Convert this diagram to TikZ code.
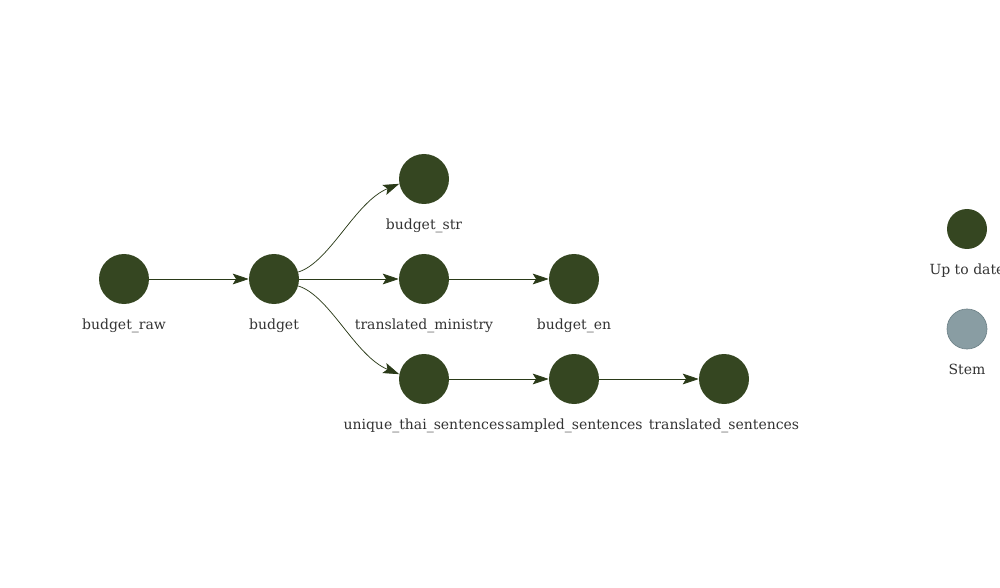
\documentclass[tikz,border=0pt]{standalone}
\usepackage{fontspec}
\setmainfont{DejaVu Serif}
\usetikzlibrary{arrows.meta}
\definecolor{uptodate}{HTML}{354621}
\definecolor{stemfill}{HTML}{899DA3}
\definecolor{stemdraw}{HTML}{6E8288}
\definecolor{edgecol}{HTML}{2A3A18}
\definecolor{labcol}{HTML}{333333}
\tikzset{
  target/.style={circle, fill=uptodate, draw=none, minimum size=37.5pt, inner sep=0pt},
  legup/.style={circle, fill=uptodate, draw=none, minimum size=30pt, inner sep=0pt},
  legstem/.style={circle, fill=stemfill, draw=stemdraw, line width=0.5pt, minimum size=30pt, inner sep=0pt},
  lab/.style={anchor=base, text=labcol, font=\fontsize{10.5pt}{12.6pt}\selectfont, inner sep=0pt},
  dep/.style={draw=edgecol, line width=0.55pt, -{Stealth[length=12pt,width=8pt,inset=2.5pt]}},
}
\begin{document}
\begin{tikzpicture}[x=0.75pt,y=-0.75pt]
\useasboundingbox (0,0) rectangle (1000,588);
% nodes
\node[target] (raw) at (124,279) {};
\node[target] (budget) at (274,279) {};
\node[target] (str) at (424,179) {};
\node[target] (tm) at (424,279) {};
\node[target] (en) at (574,279) {};
\node[target] (uts) at (424,379) {};
\node[target] (ss) at (574,379) {};
\node[target] (ts) at (724,379) {};
% labels
\node[lab] (lraw) at (124,329) {budget\_raw};
\node[lab] (lbudget) at (274,329) {budget};
\node[lab] (lstr) at (424,229) {budget\_str};
\node[lab] (ltm) at (424,329) {translated\_ministry};
\node[lab] (len) at (574,329) {budget\_en};
\node[lab] (luts) at (424,429) {unique\_thai\_sentences};
\node[lab] (lss) at (574,429) {sampled\_sentences};
\node[lab] (lts) at (724,429) {translated\_sentences};
% legend
\node[legup] (lgup) at (967,229) {};
\node[lab] (lgupl) at (967,274) {Up to date};
\node[legstem] (lgstem) at (967,329) {};
\node[lab] (lgsteml) at (967,374) {Stem};
% edges
\draw[dep] (raw.east) -- (budget.west);
\draw[dep] (budget.east) -- (tm.west);
\draw[dep] (tm.east) -- (en.west);
\draw[dep] (uts.east) -- (ss.west);
\draw[dep] (ss.east) -- (ts.west);
\draw[dep] (budget.16) .. controls (330,262) and (355,202) .. (str.191);
\draw[dep] (budget.-16) .. controls (330,296) and (355,356) .. (uts.169);
\end{tikzpicture}
\end{document}
